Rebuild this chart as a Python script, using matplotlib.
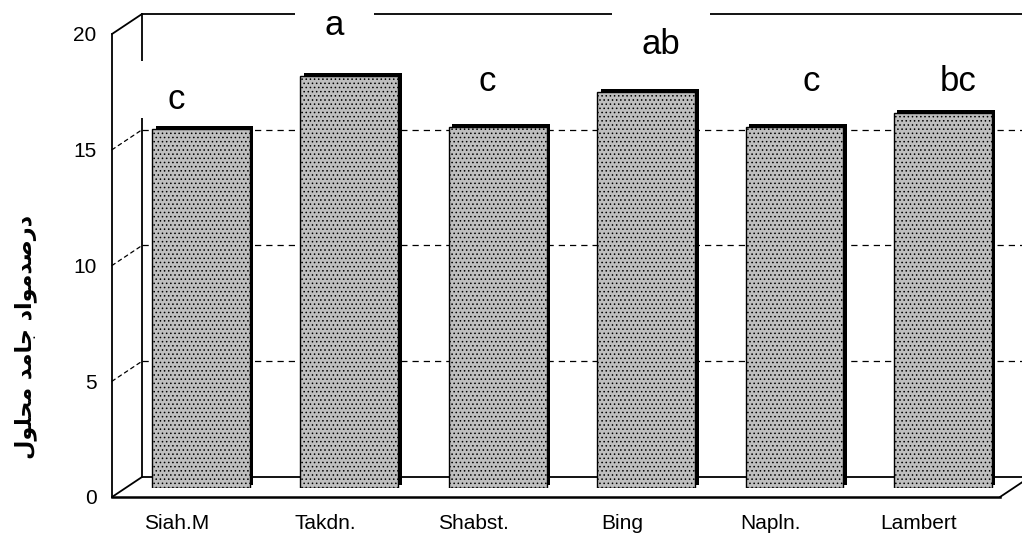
import matplotlib
matplotlib.use("Agg")
import matplotlib.pyplot as plt
from matplotlib.transforms import ScaledTranslation
from matplotlib.patches import ConnectionPatch
from matplotlib.path import Path

plt.rcParams['font.family'] = ['Liberation Sans', 'DejaVu Sans']

# ---------------- data ----------------
categories = ['Siah.M', 'Takdn.', 'Shabst.', 'Bing', 'Napln.', 'Lambert']
values = [15.5, 17.8, 15.6, 17.1, 15.6, 16.2]
letters = ['c', 'a', 'c', 'ab', 'c', 'bc']
y_ticks = [0, 5, 10, 15, 20]
grid_values = [5, 10, 15]
# Persian label written in visual order with presentation forms ("درصدمواد جامد محلول")
ylabel_text = ('\uFEDD\uFEEE\uFEE0\uFEA4\uFEE3 '
               '\uFEAA\uFEE3\uFE8E\uFE9F '
               '\uFEA9\uFE8D\uFEEE\uFEE3\uFEAA\uFEBB\uFEAD\uFEA9')

# letter label placement (category offset, baseline value) - layout only
letter_dx = [-0.17, -0.10, -0.07, 0.10, 0.11, 0.10]
letter_base = [16.37, 19.55, 17.15, 18.75, 17.15, 17.15]

# ---------------- figure ----------------
W, H, DPI = 1022, 538, 100
fig = plt.figure(figsize=(W / DPI, H / DPI), dpi=DPI)
fig.patch.set_facecolor('white')

# axes in the plane of the bars
ax_left, ax_right = 124.6, 1012.6
ax_bot, ax_top = 488.0, 25.0
ax = fig.add_axes([ax_left / W, (H - ax_bot) / H,
                   (ax_right - ax_left) / W, (ax_bot - ax_top) / H])
ax.set_xlim(-0.515, 5.47)
ax.set_ylim(0, 20)
ax.patch.set_visible(False)
for s in ax.spines.values():
    s.set_visible(False)

# front and back planes as offsets of the bar plane
front_tr = ax.transData + ScaledTranslation(-12.6 / DPI, -9 / DPI, fig.dpi_scale_trans)
back_tr = ax.transData + ScaledTranslation(17.4 / DPI, 11 / DPI, fig.dpi_scale_trans)
x0, x1, xfar = -0.515, 5.47, 6.2

frame_kw = dict(color='black', lw=1.3, clip_on=False, zorder=1)
# walls / floor
ax.plot([x0, x0], [0, 20], transform=front_tr, **frame_kw)
ax.plot([x0, x0], [0, 20], transform=back_tr, **frame_kw)
ax.plot([x0, xfar], [20, 20], transform=back_tr, **frame_kw)
ax.plot([x0, x1], [0, 0], transform=front_tr, color='black', lw=1.8,
        clip_on=False, zorder=1)
ax.plot([x0, xfar], [0, 0], transform=back_tr, **frame_kw)


def connect(x, v, **kw):
    cp = ConnectionPatch(xyA=(x, v), coordsA=front_tr, xyB=(x, v), coordsB=back_tr,
                         arrowstyle='-', shrinkA=0, shrinkB=0, **kw)
    ax.add_artist(cp)


connect(x0, 20, color='black', lw=1.3, zorder=1)
connect(x0, 0, color='black', lw=1.3, zorder=1)
connect(x1, 0, color='black', lw=1.3, zorder=1)

# gridlines on back and side walls
for v in grid_values:
    ax.plot([x0, xfar], [v, v], transform=back_tr, color='black', lw=0.9,
            ls=(0, (5, 4)), clip_on=False, zorder=1)
    connect(x0, v, color='black', lw=0.9, linestyle=(0, (3, 3)), zorder=1)

# bars: dark depth shadow + stippled face
xpos = list(range(len(categories)))
shadow_tr = ax.transData + ScaledTranslation(3.5 / DPI, 3 / DPI, fig.dpi_scale_trans)
ax.bar(xpos, values, width=0.66, color='black', transform=shadow_tr, zorder=2)
plt.rcParams['hatch.color'] = '#6a6a6a'
plt.rcParams['hatch.linewidth'] = 0.6
ax.bar(xpos, values, width=0.66, facecolor='#bfbfbf', edgecolor='black',
       linewidth=1.0, hatch='....', zorder=3)


# white label boxes as in the original (wide, tall above the text)
def label_box(x0b, y0b, w, h, mutation_scale, mutation_aspect=1):
    left = x0b - 30
    right = x0b + w + 30
    bottom = y0b - 2
    top = y0b + h + 22
    verts = [(left, bottom), (right, bottom), (right, top), (left, top), (left, bottom)]
    codes = [Path.MOVETO, Path.LINETO, Path.LINETO, Path.LINETO, Path.CLOSEPOLY]
    return Path(verts, codes)


for i, (lab, dx, yb) in enumerate(zip(letters, letter_dx, letter_base)):
    ax.text(i + dx, yb, lab, fontsize=25, ha='center', va='baseline',
            zorder=5, clip_on=False,
            bbox=dict(boxstyle=label_box, facecolor='white', edgecolor='none'))

# ticks
ax.set_yticks(y_ticks)
ax.set_yticklabels([str(t) for t in y_ticks], fontsize=15)
ax.set_xticks(xpos)
ax.set_xticklabels(categories, fontsize=15)
ax.tick_params(axis='y', length=0, pad=11)
ax.tick_params(axis='x', length=0, pad=12)
yoff = ScaledTranslation(-12.6 / DPI, -9 / DPI, fig.dpi_scale_trans)
for t in ax.get_yticklabels():
    t.set_transform(t.get_transform() + yoff)
xoff = ScaledTranslation(-24 / DPI, -9 / DPI, fig.dpi_scale_trans)
for t in ax.get_xticklabels():
    t.set_transform(t.get_transform() + xoff)

# Persian axis title
fig.text(26 / W, (H - 337) / H, ylabel_text, rotation=90, fontsize=16,
         family=['DejaVu Sans'], fontweight='bold', ha='center', va='center')

fig.savefig('out.png', dpi=DPI, facecolor='white')
